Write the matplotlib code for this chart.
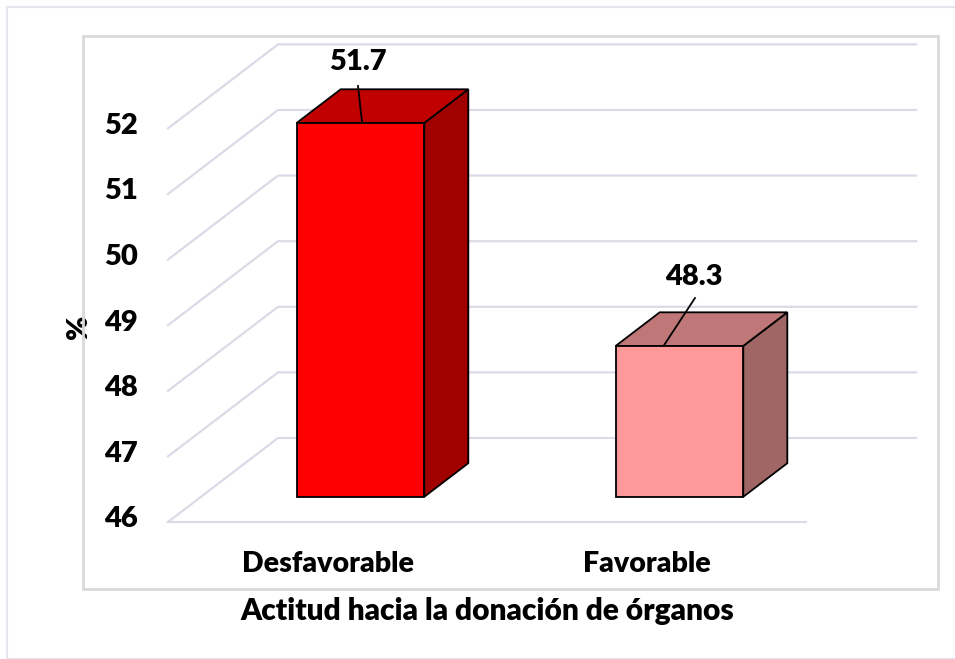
import matplotlib
matplotlib.use('Agg')
import matplotlib.pyplot as plt
from matplotlib.patches import Polygon, Rectangle

categories = ['Desfavorable', 'Favorable']
values = [51.7, 48.3]
y_ticks = [46, 47, 48, 49, 50, 51, 52]
front_colors = ['#ff0000', '#ff9999']
top_colors = ['#c00000', '#c07777']
side_colors = ['#a00000', '#a06565']

W, H = 955, 659
# pixel layout of the pseudo-3D frame
x0_pix, cat_pix = 168, 319        # left front corner, width of one category
y0_pix, unit_pix = 522, 65.6      # front floor (value 46), px per unit
depth_dx, depth_dy = 110 / cat_pix, 84 / unit_pix   # full depth offset in data units
vmin = y_ticks[0]

plt.rcParams['font.family'] = ['Lato', 'DejaVu Sans']
WEIGHT = 'heavy'

fig = plt.figure(figsize=(W / 100, H / 100), dpi=100)
ax = fig.add_axes([0, 0, 1, 1])
ax.set_xlim(-x0_pix / cat_pix, (W - x0_pix) / cat_pix)
ax.set_ylim(vmin - (H - y0_pix) / unit_pix, vmin + y0_pix / unit_pix)
ax.axis('off')


def proj(x, v, d):
    # oblique projection: d in [0, 1] goes from front to back wall
    return (x + d * depth_dx, v + d * depth_dy)


def pix(px, py):
    return ((px - x0_pix) / cat_pix, vmin + (y0_pix - py) / unit_pix)


# frames
fig.add_artist(Rectangle((6.5 / W, 0), 1, 1 - 7 / H, transform=fig.transFigure,
                         fill=False, ec='#e3e6ec', lw=1.5))
fig.add_artist(Rectangle((83 / W, 1 - 589 / H), (938 - 83) / W, (589 - 36) / H,
                         transform=fig.transFigure, fill=False, ec='#d9d9d9', lw=2))

grid_c = '#d9dce6'
ncat = len(categories)
for t in y_ticks:
    p0 = proj(0, t, 0)
    p1 = proj(0, t, 1)
    p2 = proj(ncat, t, 1)
    ax.plot([p0[0], p1[0], p2[0]], [p0[1], p1[1], p2[1]], color=grid_c, lw=1.6, zorder=1)
    ax.text(p0[0] - 30 / cat_pix, t + 0.04, str(t), ha='right', va='center', fontsize=21,
            fontweight=WEIGHT)
f0 = proj(0, vmin, 0)
f1 = proj(ncat, vmin, 0)
ax.plot([f0[0], f1[0]], [f0[1], f1[1]], color=grid_c, lw=1.6, zorder=1)

bar_w = 0.4
d_front, d_back = 0.3, 0.7
for i, (v, fc, tc, sc) in enumerate(zip(values, front_colors, top_colors, side_colors)):
    xl = i + 0.5 - bar_w / 2
    xr = i + 0.5 + bar_w / 2
    front = [proj(xl, vmin, d_front), proj(xr, vmin, d_front),
             proj(xr, v, d_front), proj(xl, v, d_front)]
    top = [proj(xl, v, d_front), proj(xr, v, d_front),
           proj(xr, v, d_back), proj(xl, v, d_back)]
    side = [proj(xr, vmin, d_front), proj(xr, vmin, d_back),
            proj(xr, v, d_back), proj(xr, v, d_front)]
    for poly, c in ((side, sc), (top, tc), (front, fc)):
        ax.add_patch(Polygon(poly, closed=True, fc=c, ec='black', lw=1.3,
                             joinstyle='miter', zorder=3))

# data labels with leader lines
lbl_pos = [(358, 62), (694, 277)]
lead_start = [(358, 86), (695, 298)]
lead_end_dx = [0.005, -0.05]
for i, v in enumerate(values):
    lx, ly = pix(*lbl_pos[i])
    ax.text(lx, ly, f'{v:.1f}', ha='center', va='center', fontsize=21, fontweight=WEIGHT,
            zorder=5)
    sx, sy = pix(*lead_start[i])
    ex, ey = proj(i + 0.5 + lead_end_dx[i], v, d_front)
    ax.plot([sx, ex], [sy, ey], color='black', lw=1.3, zorder=5)

for i, c in enumerate(categories):
    cx, cy = pix(0, 564)
    ax.text(i + 0.5, cy, c, ha='center', va='center', fontsize=20.5, fontweight=WEIGHT)

tx, ty = pix(487, 611)
ax.text(tx, ty, 'Actitud hacia la donación de órganos', ha='center', va='center',
        fontsize=21.5, fontweight=WEIGHT)
px_, py_ = pix(79, 327)
ax.text(px_, py_, '%', ha='center', va='center', rotation=90, fontsize=21,
        fontweight=WEIGHT)

fig.savefig('out.png', dpi=100)
